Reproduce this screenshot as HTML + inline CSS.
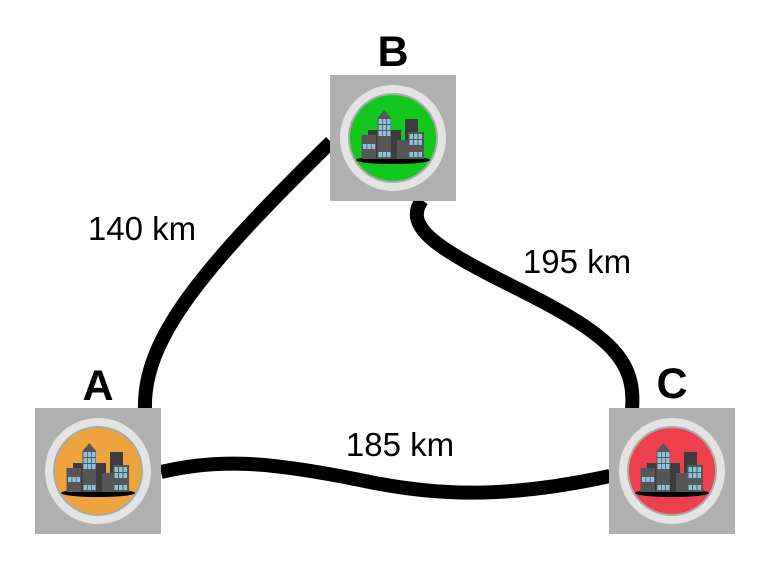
<!DOCTYPE html>
<html><head><style>
html,body{margin:0;padding:0;background:#fff;}
svg{display:block;}
</style></head><body>
<svg width="770" height="570" viewBox="0 0 770 570" xmlns="http://www.w3.org/2000/svg">
<defs>
<g id="frame">
  <rect x="0" y="0" width="126" height="126" fill="#b0b0b0"/>
  <circle cx="63" cy="63" r="53" fill="#e3e3e3"/>
  <circle cx="63" cy="63" r="45" fill="#a9a9a9"/>
</g>
<g id="b">
  <ellipse cx="63" cy="85" rx="37" ry="4" fill="#000"/>
  <rect x="38" y="55" width="33" height="29" fill="#3c3c3c"/>
  <rect x="75" y="44" width="13" height="40" fill="#3c3c3c"/>
  <rect x="31.5" y="60" width="14.5" height="24" fill="#565656"/>
  <polygon points="47.5,43 54.3,35 61,43 61,84 47.5,84" fill="#565656"/>
  <rect x="67" y="65" width="12" height="19" fill="#565656"/>
  <rect x="78" y="57" width="16" height="27" fill="#565656"/>
  <g fill="#8cc2dc">
    <rect x="33" y="69" width="3.5" height="5"/><rect x="37.3" y="69" width="3.5" height="5"/><rect x="41.6" y="69" width="3.5" height="5"/>
    <rect x="48.5" y="44" width="3.5" height="5"/><rect x="52.7" y="44" width="3.5" height="5"/><rect x="57" y="44" width="3.5" height="5"/>
    <rect x="48.5" y="50" width="3.5" height="5"/><rect x="52.7" y="50" width="3.5" height="5"/><rect x="57" y="50" width="3.5" height="5"/>
    <rect x="48.5" y="56" width="3.5" height="5"/><rect x="52.7" y="56" width="3.5" height="5"/><rect x="57" y="56" width="3.5" height="5"/>
    <rect x="48.5" y="77" width="3.5" height="5"/><rect x="52.7" y="77" width="3.5" height="5"/><rect x="57" y="77" width="3.5" height="5"/>
    <rect x="79.5" y="59" width="3.5" height="5"/><rect x="84" y="59" width="3.5" height="5"/><rect x="88.5" y="59" width="3.5" height="5"/>
    <rect x="79.5" y="65" width="3.5" height="5"/><rect x="84" y="65" width="3.5" height="5"/><rect x="88.5" y="65" width="3.5" height="5"/>
    <rect x="79.5" y="77" width="3.5" height="5"/><rect x="84" y="77" width="3.5" height="5"/><rect x="88.5" y="77" width="3.5" height="5"/>
  </g>
</g>
</defs>
<g fill="none" stroke="#000" stroke-width="14">
  <path d="M145,409 C143,340 200,270 331,142"/>
  <path d="M422,200 C402,228 440,250 520,290 C610,335 636,360 632,409"/>
  <path d="M161,472 C220,458 270,462 360,480 C430,495 500,500 610,476"/>
</g>
<g transform="translate(35,408)">
  <use href="#frame"/>
  <circle cx="63" cy="63" r="43" fill="#eda43f"/>
  <use href="#b"/>
</g>
<g transform="translate(330,75)">
  <use href="#frame"/>
  <circle cx="63" cy="63" r="43" fill="#12c81e"/>
  <use href="#b"/>
</g>
<g transform="translate(609,408)">
  <use href="#frame"/>
  <circle cx="63" cy="63" r="43" fill="#ee3f4c"/>
  <use href="#b"/>
</g>
<g font-family="Liberation Sans, sans-serif" fill="#000" text-anchor="middle">
  <text x="393" y="66" font-size="43" font-weight="bold">B</text>
  <text x="98" y="400" font-size="43" font-weight="bold">A</text>
  <text x="672" y="398" font-size="43" font-weight="bold">C</text>
  <text x="142" y="240" font-size="33">140 km</text>
  <text x="577" y="273" font-size="33">195 km</text>
  <text x="400" y="456" font-size="33">185 km</text>
</g>
</svg>
</body></html>
